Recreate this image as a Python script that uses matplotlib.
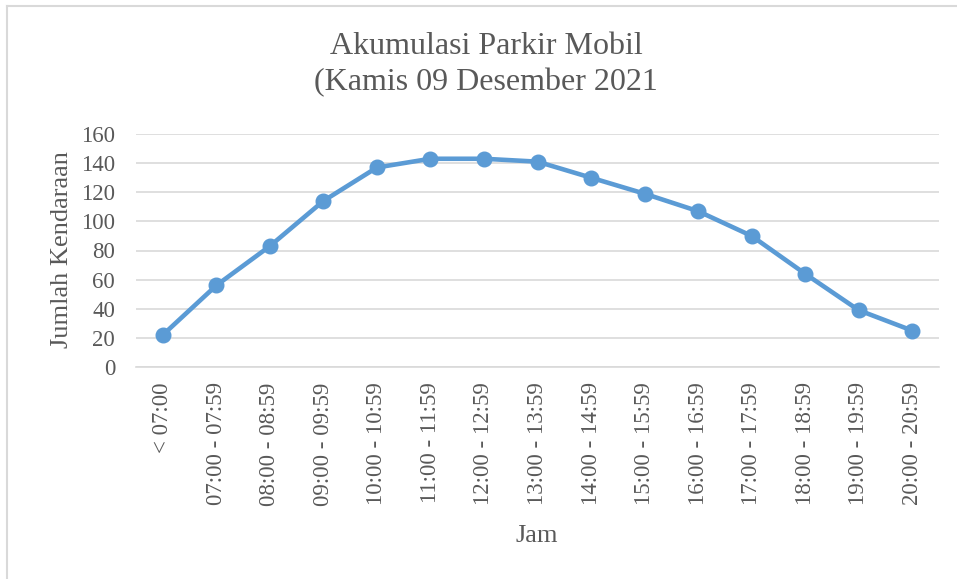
import matplotlib
matplotlib.use("Agg")
import matplotlib.pyplot as plt
from matplotlib.lines import Line2D

categories = ["< 07:00", "07:00 - 07:59", "08:00 - 08:59", "09:00 - 09:59",
              "10:00 - 10:59", "11:00 - 11:59", "12:00 - 12:59", "13:00 - 13:59",
              "14:00 - 14:59", "15:00 - 15:59", "16:00 - 16:59", "17:00 - 17:59",
              "18:00 - 18:59", "19:00 - 19:59", "20:00 - 20:59"]
values = [22, 56, 83, 114, 137, 143, 143, 141, 130, 119, 107, 90, 64, 39, 25]
yticks = [0, 20, 40, 60, 80, 100, 120, 140, 160]
title_lines = ["Akumulasi Parkir Mobil", "(Kamis 09 Desember 2021"]
xlabel = "Jam"
ylabel = "Jumlah Kendaraan"

W, H = 957, 579
plt.rcParams['font.family'] = ['Liberation Serif', 'DejaVu Serif']
TXT = '#595959'
GRID = '#D9D9D9'
BLUE = '#5B9BD5'

fig = plt.figure(figsize=(W/100, H/100), dpi=100)
fig.patch.set_facecolor('white')

def fx(px):
    return px / W

def fy(py):
    return 1 - py / H

# chart frame (left and top edges visible)
fig.add_artist(Line2D([fx(7.5), fx(7.5)], [fy(6), 0], color=GRID, lw=1.5, transform=fig.transFigure))
fig.add_artist(Line2D([fx(7.5), 1], [fy(6), fy(6)], color=GRID, lw=1.5, transform=fig.transFigure))

ax = fig.add_axes([fx(136), fy(367), fx(939) - fx(136), fy(134) - fy(367)])
x = list(range(len(categories)))
ax.plot(x, values, color=BLUE, lw=3.3, marker='o', markersize=10.5, zorder=3,
        solid_capstyle='round', solid_joinstyle='round')
ax.set_xlim(-0.5, len(categories) - 0.5)
ax.set_ylim(0, 160)
ax.set_yticks(yticks)
ax.set_yticklabels([str(v) for v in yticks])
ax.set_xticks(x)
ax.set_xticklabels(categories, rotation=90, va='top', ha='center')
ax.tick_params(axis='y', length=0, pad=15, labelsize=16.5, labelcolor=TXT)
ax.tick_params(axis='x', length=0, pad=11, labelsize=16.5, labelcolor=TXT)
ax.grid(axis='y', color=GRID, lw=1.2)
ax.set_axisbelow(True)
for s in ['top', 'right', 'left']:
    ax.spines[s].set_visible(False)
ax.spines['bottom'].set_color(GRID)
ax.spines['bottom'].set_linewidth(1.2)

fig.text(fx(486), fy(47), title_lines[0], ha='center', va='center', fontsize=23, color=TXT)
fig.text(fx(486), fy(83), title_lines[1], ha='center', va='center', fontsize=23, color=TXT)
fig.text(fx(537), fy(536), xlabel, ha='center', va='center', fontsize=19, color=TXT)
fig.text(fx(62), fy(250), ylabel, ha='center', va='center', fontsize=19, color=TXT, rotation=90)

fig.savefig('out.png', dpi=100, facecolor='white')
